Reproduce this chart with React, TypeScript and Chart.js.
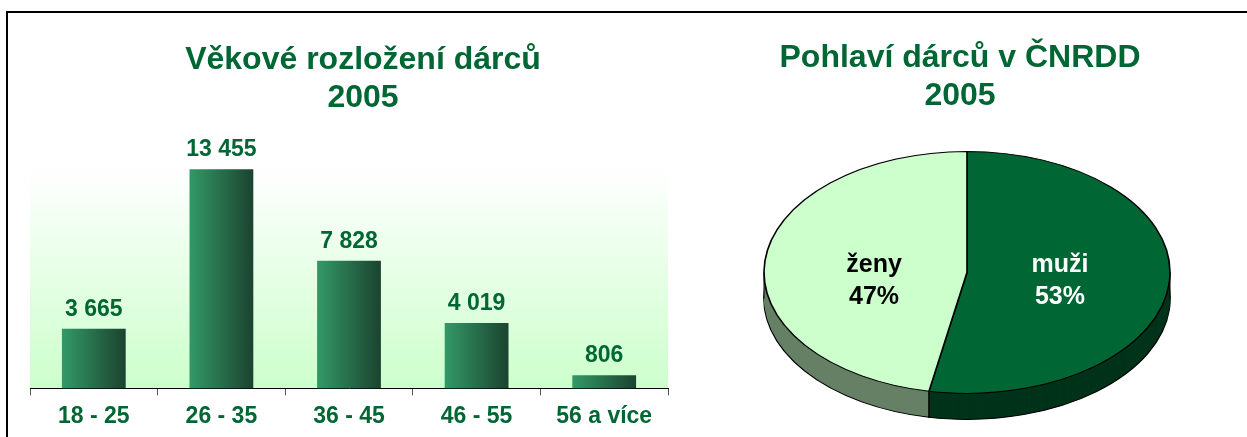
import React, { useEffect, useRef } from 'react';
import { Chart, registerables } from 'chart.js';

Chart.register(...registerables);

// ---------- data ----------
const ageCategories = ['18 - 25', '26 - 35', '36 - 45', '46 - 55', '56 a více'];
const donorCounts = [3665, 13455, 7828, 4019, 806];
const barTitle = ['Věkové rozložení dárců', '2005'];
const ageAxisMax = 13600;

const genderLabels = ['muži', 'ženy'];
const genderShares = [53, 47];
const pieTitle = ['Pohlaví dárců v ČNRDD', '2005'];

// ---------- style ----------
const FONT = "'Liberation Sans', Arial, Helvetica, sans-serif";
const GREEN = '#006633';
const BAR_LEFT = '#339966';
const BAR_RIGHT = '#1B4330';
const PLOT_TOP = '#FFFFFF';
const PLOT_BOTTOM = '#CCFFCC';
const topColors = ['#006633', '#CCFFCC'];
const sideColors = ['#00331A', '#668066'];
const pieTextColors = ['#FFFFFF', '#000000'];

const PIE_RX = 203;
const PIE_RY = 121;
const PIE_DEPTH = 26;
const PIE_SHIFT_X = 7;
const EDGE_W = 1.2;
const LABEL_R = 0.46;
const LABEL_DY = 9;

const fmt = (v: number) => String(v).replace(/\B(?=(\d{3})+(?!\d))/g, ' ');

const plotGradient = {
  id: 'plotGradient',
  beforeDraw(chart: any) {
    const { ctx, chartArea: a } = chart;
    if (!a) return;
    const g = ctx.createLinearGradient(0, a.top, 0, a.bottom);
    g.addColorStop(0, PLOT_TOP);
    g.addColorStop(1, PLOT_BOTTOM);
    ctx.save();
    ctx.fillStyle = g;
    ctx.fillRect(a.left, a.top, a.right - a.left, a.bottom - a.top);
    ctx.restore();
  },
};

const valueLabels = {
  id: 'valueLabels',
  afterDatasetsDraw(chart: any) {
    const { ctx } = chart;
    const meta = chart.getDatasetMeta(0);
    ctx.save();
    ctx.font = `bold 23px ${FONT}`;
    ctx.fillStyle = GREEN;
    ctx.textAlign = 'center';
    ctx.textBaseline = 'alphabetic';
    meta.data.forEach((el: any, i: number) => {
      ctx.fillText(fmt(donorCounts[i]), el.x, el.y - 13);
    });
    ctx.restore();
  },
};

const pie3d = {
  id: 'pie3d',
  beforeDatasetsDraw(chart: any) {
    const { ctx } = chart;
    const arcs = chart.getDatasetMeta(0).data as any[];
    if (!arcs.length) return;
    const a0 = arcs[0];
    const cx = a0.x + PIE_SHIFT_X;
    const cy = a0.y;
    const sx = PIE_RX / a0.outerRadius;
    const sy = PIE_RY / a0.outerRadius;
    const applyT = (dy: number) => {
      ctx.translate(cx, cy + dy);
      ctx.scale(sx, sy);
      ctx.translate(-a0.x, -a0.y);
    };
    const drawWith = (arc: any, opts: any) => {
      const saved = arc.options;
      arc.options = { ...saved, ...opts };
      arc.draw(ctx);
      arc.options = saved;
    };
    // side walls
    for (let d = PIE_DEPTH; d >= 1; d--) {
      arcs.forEach((arc, i) => {
        ctx.save();
        applyT(d);
        drawWith(arc, {
          backgroundColor: sideColors[i],
          borderColor: '#000000',
          borderWidth: d === PIE_DEPTH ? EDGE_W : 0,
        });
        ctx.restore();
      });
    }
    // top faces
    arcs.forEach((arc) => {
      ctx.save();
      applyT(0);
      arc.draw(ctx);
      ctx.restore();
    });
    // vertical edges
    const angles: number[] = [0, Math.PI];
    arcs.forEach((arc) => {
      [arc.startAngle, arc.endAngle].forEach((a: number) => {
        if (Math.sin(a) > 0.02) angles.push(a);
      });
    });
    ctx.save();
    ctx.strokeStyle = '#000000';
    ctx.lineWidth = 1;
    angles.forEach((a) => {
      const x = cx + Math.cos(a) * PIE_RX;
      const y = cy + Math.sin(a) * PIE_RY;
      ctx.beginPath();
      ctx.moveTo(x, y);
      ctx.lineTo(x, y + PIE_DEPTH);
      ctx.stroke();
    });
    ctx.restore();
    // labels
    const total = genderShares.reduce((s, v) => s + v, 0);
    ctx.save();
    ctx.font = `bold 25px ${FONT}`;
    ctx.textAlign = 'center';
    ctx.textBaseline = 'middle';
    arcs.forEach((arc, i) => {
      const mid = (arc.startAngle + arc.endAngle) / 2;
      const x = cx + Math.cos(mid) * PIE_RX * LABEL_R;
      const y = cy + LABEL_DY;
      ctx.fillStyle = pieTextColors[i];
      ctx.fillText(genderLabels[i], x, y - 16);
      ctx.fillText(Math.round((genderShares[i] / total) * 100) + '%', x, y + 16);
    });
    ctx.restore();
    return false;
  },
};

export default function App() {
  const barRef = useRef<HTMLCanvasElement | null>(null);
  const pieRef = useRef<HTMLCanvasElement | null>(null);

  useEffect(() => {
    const titleFont = { family: FONT, size: 32, weight: 'bold' as const, lineHeight: 1.2 };

    const bar = new Chart(barRef.current as HTMLCanvasElement, {
      type: 'bar',
      data: {
        labels: ageCategories,
        datasets: [
          {
            data: donorCounts,
            backgroundColor: (c: any) => {
              const chart = c.chart;
              const xs = chart.scales && chart.scales.x;
              if (!chart.chartArea || !xs || c.dataIndex === undefined) return BAR_LEFT;
              const center = xs.getPixelForValue(c.dataIndex);
              const half = xs.width / ageCategories.length / 4;
              const g = chart.ctx.createLinearGradient(center - half, 0, center + half, 0);
              g.addColorStop(0, BAR_LEFT);
              g.addColorStop(1, BAR_RIGHT);
              return g;
            },
            borderWidth: 0,
            barPercentage: 0.5,
            categoryPercentage: 1.0,
          },
        ],
      },
      options: {
        responsive: false,
        animation: false,
        layout: { padding: { left: 2, right: 0, top: 0, bottom: 0 } },
        plugins: {
          legend: { display: false },
          tooltip: { enabled: false },
          title: {
            display: true,
            text: barTitle,
            color: GREEN,
            font: titleFont,
            padding: { top: 28, bottom: 49 },
          },
        },
        scales: {
          x: {
            grid: {
              display: true,
              drawOnChartArea: false,
              drawTicks: true,
              tickLength: 7,
              color: '#555555',
              offset: true,
            },
            border: { display: true, color: '#000000', width: 1 },
            ticks: {
              color: GREEN,
              font: { family: FONT, size: 23, weight: 'bold' },
              padding: 7,
              maxRotation: 0,
              autoSkip: false,
            },
          },
          y: {
            position: 'right',
            min: 0,
            max: ageAxisMax,
            display: true,
            grid: { display: false },
            border: { display: false },
            ticks: { display: false },
            afterFit: (s: any) => {
              s.width = 28;
            },
          },
        },
      },
      plugins: [plotGradient, valueLabels],
    });

    const pie = new Chart(pieRef.current as HTMLCanvasElement, {
      type: 'pie',
      data: {
        labels: genderLabels,
        datasets: [
          {
            data: genderShares,
            backgroundColor: topColors,
            borderColor: '#000000',
            borderWidth: EDGE_W,
            clip: false as any,
          },
        ],
      },
      options: {
        responsive: false,
        animation: false,
        layout: { padding: { left: 0, right: 0, top: 0, bottom: 18 } },
        plugins: {
          legend: { display: false },
          tooltip: { enabled: false },
          title: {
            display: true,
            text: pieTitle,
            color: GREEN,
            font: titleFont,
            padding: { top: 26, bottom: 10 },
          },
        },
      },
      plugins: [pie3d],
    });

    return () => {
      bar.destroy();
      pie.destroy();
    };
  }, []);

  return (
    <div
      style={{
        position: 'fixed',
        left: 0,
        top: 0,
        width: 1247,
        height: 437,
        background: '#FFFFFF',
        overflow: 'hidden',
      }}
    >
      <div
        style={{
          position: 'absolute',
          left: 6,
          top: 11,
          width: 1400,
          height: 600,
          borderLeft: '2px solid #000',
          borderTop: '2px solid #000',
        }}
      />
      <canvas
        ref={barRef}
        width={668}
        height={424}
        style={{ position: 'absolute', left: 28, top: 13, display: 'block' }}
      />
      <canvas
        ref={pieRef}
        width={526}
        height={424}
        style={{ position: 'absolute', left: 697, top: 13, display: 'block' }}
      />
    </div>
  );
}
